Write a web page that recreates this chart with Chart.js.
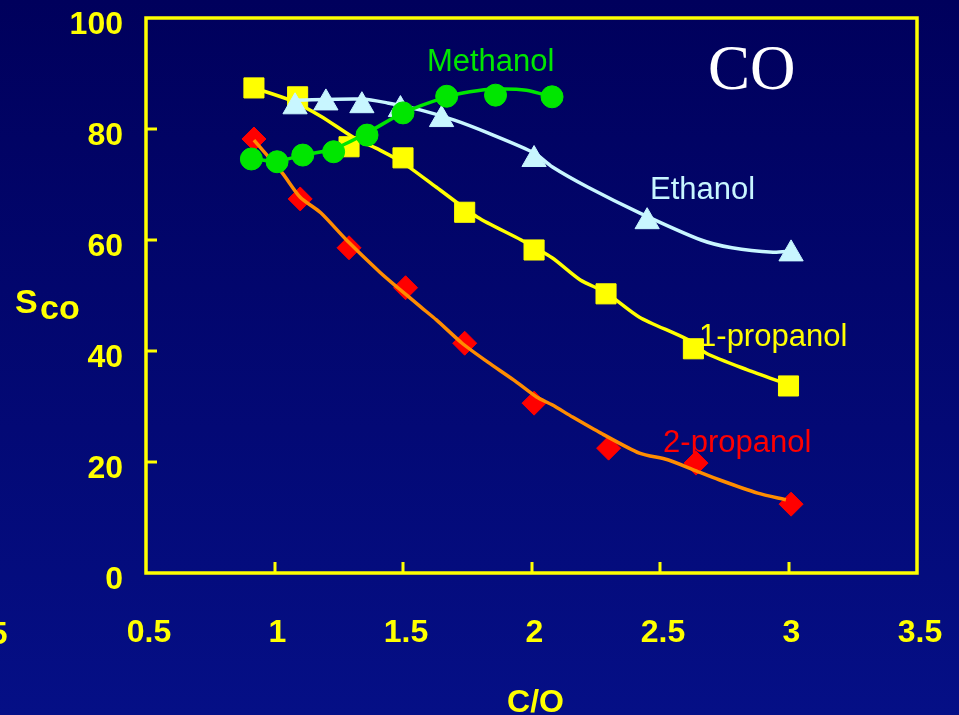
<!DOCTYPE html>
<html><head><meta charset="utf-8">
<script src="https://cdn.jsdelivr.net/npm/chart.js@4/dist/chart.umd.min.js"></script>
<style>html,body{margin:0;padding:0;background:#000066;}#wrap{width:959px;height:715px;position:relative;}</style>
</head><body><div id="wrap"><canvas id="c"></canvas></div>
<script>
// ---- data ----
const xTicks = [0.5, 1, 1.5, 2, 2.5, 3, 3.5];
const yTicks = [0, 20, 40, 60, 80, 100];

const methanolX = [0.91, 1.01, 1.11, 1.23, 1.36, 1.50, 1.67, 1.86, 2.08];
const methanolY = [74.6, 74.1, 75.3, 75.9, 78.9, 82.9, 85.9, 86.1, 85.8];
const methanolCurveX = [0.92, 1.01, 1.11, 1.23, 1.36, 1.50, 1.67, 1.76, 1.86, 1.98, 2.08];
const methanolCurveY = [74.6, 74.2, 75.3, 76.4, 79.3, 82.9, 85.8, 86.7, 87.2, 87.0, 85.8];

const ethanolX = [1.08, 1.20, 1.34, 1.49, 1.65, 2.01, 2.45, 3.01];
const ethanolY = [84.0, 84.7, 84.2, 83.5, 81.7, 74.5, 63.3, 57.5];
const ethanolCurveX = [1.07, 1.34, 1.44, 1.57, 1.70, 1.83, 2.01, 2.08, 2.22, 2.42, 2.66, 2.78, 2.94, 3.01];
const ethanolCurveY = [85.2, 85.4, 84.7, 83.4, 81.6, 79.3, 75.7, 73.2, 69.5, 64.9, 60.0, 58.6, 57.8, 58.0];

const prop1X = [0.92, 1.09, 1.29, 1.50, 1.74, 2.01, 2.29, 2.63, 3.00];
const prop1Y = [87.4, 85.8, 76.8, 74.8, 65.0, 58.2, 50.3, 40.4, 33.7];
const prop1CurveX = [0.92, 1.06, 1.18, 1.31, 1.41, 1.50, 1.63, 1.79, 1.96, 2.08, 2.19, 2.29, 2.42, 2.61, 2.68, 2.84, 2.99];
const prop1CurveY = [87.4, 85.2, 82.3, 78.4, 76.2, 73.9, 69.5, 64.1, 60.0, 56.8, 52.8, 50.5, 46.1, 42.0, 39.6, 36.6, 34.1];

const prop2X = [0.92, 1.10, 1.29, 1.51, 1.74, 2.01, 2.30, 2.64, 3.01];
const prop2Y = [78.2, 67.4, 58.6, 51.4, 41.4, 30.6, 22.5, 19.8, 12.4];
const prop2CurveX = [0.92, 1.03, 1.10, 1.18, 1.28, 1.41, 1.48, 1.57, 1.63, 1.73, 1.83, 1.93, 2.02, 2.08, 2.16, 2.27, 2.42, 2.53, 2.63, 2.73, 2.88, 2.99];
const prop2CurveY = [78.0, 72.1, 67.7, 64.9, 60.0, 54.2, 51.4, 47.9, 45.6, 41.4, 38.0, 34.8, 31.7, 30.3, 28.1, 25.2, 21.6, 20.4, 18.6, 16.8, 14.4, 13.2];

const seriesNames = ['Methanol', 'Ethanol', '1-propanol', '2-propanol'];
const chartTitle = 'CO';
const xTitle = 'C/O';
const yTitleMain = 'S';
const yTitleSub = 'co';

// ---- styling ----
const YELLOW = '#ffff00';
const GREEN = '#00e600';
const PALE = '#c8f6ff';
const RED = '#ff0000';
const ORANGE = '#ff8c00';
const SANS = '"Liberation Sans", Arial, sans-serif';

const pts = (xs, ys) => xs.map((x, i) => ({x, y: ys[i]}));

function curve(xs, ys, color, w) {
  return {data: pts(xs, ys), showLine: true, borderColor: color, borderWidth: w,
    pointRadius: 0, tension: 0.25, fill: false};
}
function marks(xs, ys, color, style, r) {
  return {data: pts(xs, ys), showLine: false, backgroundColor: color, borderColor: color,
    borderWidth: 1, pointStyle: style, pointRadius: r, pointHoverRadius: r};
}

const datasets = [
  curve(methanolCurveX, methanolCurveY, GREEN, 3.5),
  marks(methanolX, methanolY, GREEN, 'circle', 11),
  curve(ethanolCurveX, ethanolCurveY, PALE, 3.5),
  marks(ethanolX, ethanolY, PALE, 'triangle', 14),
  curve(prop1CurveX, prop1CurveY, YELLOW, 3.5),
  marks(prop1X, prop1Y, YELLOW, 'rect', 14.2),
  curve(prop2CurveX, prop2CurveY, ORANGE, 3.5),
  marks(prop2X, prop2Y, RED, 'rectRot', 12),
];

const labels = [
  {text: seriesNames[0], x: 1.593, y: 90.45, color: GREEN, font: '31px ' + SANS},
  {text: seriesNames[1], x: 2.461, y: 67.4, color: PALE, font: '31px ' + SANS},
  {text: seriesNames[2], x: 2.652, y: 40.9, color: YELLOW, font: '31px ' + SANS},
  {text: seriesNames[3], x: 2.512, y: 21.8, color: RED, font: '31px ' + SANS},
  {text: chartTitle, x: 2.687, y: 87.2, color: '#ffffff', font: '63px "Liberation Serif", "Times New Roman", serif'},
];

const decor = {
  id: 'decor',
  beforeDraw(chart) {
    const {ctx, width, height} = chart;
    const g = ctx.createLinearGradient(0, 0, 0, height);
    g.addColorStop(0, '#00005c');
    g.addColorStop(1, '#050f86');
    ctx.save();
    ctx.fillStyle = g;
    ctx.fillRect(0, 0, width, height);
    ctx.restore();
  },
  beforeDatasetsDraw(chart) {
    const {ctx, chartArea: a, scales} = chart;
    ctx.save();
    ctx.strokeStyle = YELLOW;
    ctx.lineWidth = 3.5;
    ctx.lineCap = 'square';
    ctx.strokeRect(a.left, a.top, a.right - a.left, a.bottom - a.top);
    ctx.lineCap = 'butt';
    ctx.lineWidth = 3;
    ctx.beginPath();
    xTicks.slice(1, -1).forEach(v => {
      const px = Math.round(scales.x.getPixelForValue(v));
      ctx.moveTo(px, a.bottom); ctx.lineTo(px, a.bottom - 11);
    });
    yTicks.slice(1, -1).forEach(v => {
      const py = Math.round(scales.y.getPixelForValue(v));
      ctx.moveTo(a.left, py); ctx.lineTo(a.left + 11, py);
    });
    ctx.stroke();
    ctx.restore();
  },
  afterDatasetsDraw(chart) {
    const {ctx, scales, chartArea: a} = chart;
    ctx.save();
    ctx.textBaseline = 'alphabetic';
    ctx.textAlign = 'left';
    labels.forEach(l => {
      ctx.font = l.font;
      ctx.fillStyle = l.color;
      ctx.fillText(l.text, scales.x.getPixelForValue(l.x), scales.y.getPixelForValue(l.y));
    });
    // axis titles
    ctx.fillStyle = YELLOW;
    ctx.font = 'bold 32px ' + SANS;
    ctx.textAlign = 'center';
    ctx.fillText(xTitle, (a.left + a.right) / 2 + 4, 712);
    ctx.textAlign = 'left';
    ctx.font = 'bold 34px ' + SANS;
    ctx.fillText(yTitleMain, 15, 313);
    ctx.fillText(yTitleSub, 40, 319);
    // partially visible stray tick label at the left edge
    ctx.font = 'bold 32px ' + SANS;
    ctx.textAlign = 'right';
    ctx.textBaseline = 'middle';
    ctx.fillText('5', 7.5, 635);
    ctx.restore();
  }
};

new Chart(document.getElementById('c'), {
  type: 'scatter',
  data: {datasets},
  plugins: [decor],
  options: {
    responsive: true,
    maintainAspectRatio: false,
    animation: false,
    devicePixelRatio: 1,
    layout: {padding: {left: 0, top: 18, right: 42, bottom: 0}},
    plugins: {legend: {display: false}, tooltip: {enabled: false}, title: {display: false}},
    scales: {
      x: {
        type: 'linear', min: 0.5, max: 3.5,
        afterBuildTicks: s => { s.ticks = xTicks.map(v => ({value: v})); },
        afterFit: s => { s.height = 142; s.paddingLeft = 0; s.paddingRight = 0; },
        grid: {display: false, drawTicks: false},
        border: {display: false},
        ticks: {color: YELLOW, font: {family: SANS, size: 32, weight: 'bold', lineHeight: 1},
          padding: 44, labelOffset: 3, maxRotation: 0, autoSkip: false,
          callback: v => String(v)}
      },
      y: {
        type: 'linear', min: 0, max: 100,
        afterBuildTicks: s => { s.ticks = yTicks.map(v => ({value: v})); },
        afterFit: s => { s.width = 146; s.paddingTop = 0; s.paddingBottom = 0; },
        grid: {display: false, drawTicks: false},
        border: {display: false},
        ticks: {color: YELLOW, font: {family: SANS, size: 32, weight: 'bold', lineHeight: 1},
          padding: 23, labelOffset: 7, callback: v => String(v)}
      }
    }
  }
});
</script>
</body></html>
